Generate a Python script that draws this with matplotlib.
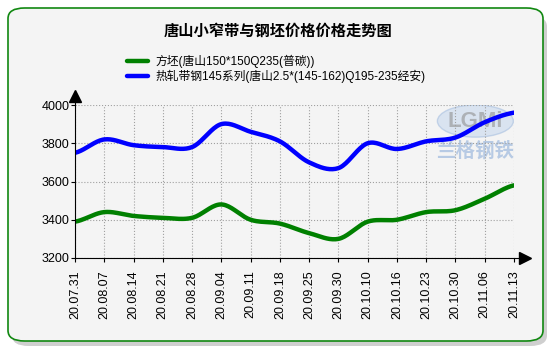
import numpy as np
import matplotlib.pyplot as plt
from matplotlib.patches import FancyBboxPatch, Ellipse

plt.rcParams['font.family'] = ['Liberation Sans', 'Noto Sans CJK SC', 'DejaVu Sans']

dates = ['20.07.31', '20.08.07', '20.08.14', '20.08.21', '20.08.28', '20.09.04',
         '20.09.11', '20.09.18', '20.09.25', '20.09.30', '20.10.10', '20.10.16',
         '20.10.23', '20.10.30', '20.11.06', '20.11.13']
billet = [3390, 3440, 3420, 3410, 3410, 3480, 3400, 3380, 3330, 3300,
          3390, 3400, 3440, 3450, 3510, 3580]
strip = [3750, 3820, 3790, 3780, 3780, 3900, 3860, 3810, 3700, 3670,
         3800, 3770, 3810, 3830, 3910, 3960]
label_billet = '方坯(唐山150*150Q235(普碳))'
label_strip = '热轧带钢145系列(唐山2.5*(145-162)Q195-235经安)'
title = '唐山小窄带与钢坯价格价格走势图'


def smooth(y, n=20):
    # catmull-rom curve through the points
    y = np.asarray(y, float)
    p = np.concatenate([[y[0]], y, [y[-1]]])
    xs, ys = [], []
    t = np.linspace(0, 1, n, endpoint=False)
    for i in range(len(y) - 1):
        p0, p1, p2, p3 = p[i], p[i + 1], p[i + 2], p[i + 3]
        seg = 0.5 * (2 * p1 + (-p0 + p2) * t + (2 * p0 - 5 * p1 + 4 * p2 - p3) * t ** 2
                     + (-p0 + 3 * p1 - 3 * p2 + p3) * t ** 3)
        xs.extend(i + t)
        ys.extend(seg)
    xs.append(len(y) - 1)
    ys.append(y[-1])
    return np.array(xs), np.array(ys)


fig = plt.figure(figsize=(5.52, 3.5), dpi=100)
fig.patch.set_facecolor('white')

# shadow + panel
shadow = FancyBboxPatch((12 / 552, 4 / 350), 535 / 552, 330 / 350,
                        boxstyle='round,pad=0,rounding_size=0.03',
                        transform=fig.transFigure, facecolor='#b0b0b0',
                        edgecolor='none', alpha=0.6, zorder=-2)
panel = FancyBboxPatch((8 / 552, 9 / 350), 535 / 552, 333 / 350,
                       boxstyle='round,pad=0,rounding_size=0.03',
                       transform=fig.transFigure, facecolor='#f4f4f4',
                       edgecolor='#118811', linewidth=1.2, zorder=-1)
fig.patches.extend([shadow, panel])

fig.text(278 / 552, 1 - 31 / 350, title, ha='center', va='center',
         fontsize=11, fontweight='bold')

ax = fig.add_axes([75 / 552, 1 - 258 / 350, 439 / 552, 153 / 350])
ax.set_facecolor('none')

x = np.arange(len(dates))
xs, ys = smooth(billet)
ax.plot(xs, ys, color='#008000', lw=3.2, label=label_billet, solid_capstyle='round')
xs, ys = smooth(strip)
ax.plot(xs, ys, color='#0000ff', lw=3.2, label=label_strip, solid_capstyle='round')

ax.set_xlim(0, len(dates) - 1)
ax.set_ylim(3200, 4000)
ax.set_yticks([3200, 3400, 3600, 3800, 4000])
ax.set_xticks(x)
ax.set_xticklabels(dates, rotation=90, fontsize=9)
ax.tick_params(axis='y', labelsize=9, length=3, pad=1)
ax.tick_params(axis='x', length=3, pad=6)
ax.grid(True, color='#a0a0a0', linestyle=':', linewidth=0.8)
for s in ['top', 'right']:
    ax.spines[s].set_visible(False)

# axis arrows
ax.plot([0, 0], [1, 1.07], color='black', lw=0.8, transform=ax.transAxes, clip_on=False)
ax.plot(0, 1.06, marker='^', color='black', ms=8, transform=ax.transAxes, clip_on=False)
ax.plot([1, 1.03], [0, 0], color='black', lw=0.8, transform=ax.transAxes, clip_on=False)
ax.plot(1.025, 0, marker='>', color='black', ms=8, transform=ax.transAxes, clip_on=False)

# watermark
ax.add_patch(Ellipse((0.912, 0.895), 0.173, 0.21, transform=ax.transAxes,
                     facecolor='#c8d8ee', edgecolor='#a8c0e0', alpha=0.6, zorder=0))
ax.text(0.912, 0.895, 'LGMi', transform=ax.transAxes, ha='center', va='center',
        fontsize=16, fontweight='bold', color='#909090', alpha=0.6, zorder=0)
ax.text(0.912, 0.70, '兰格钢铁', transform=ax.transAxes, ha='center', va='center',
        fontsize=14, fontweight='bold', color='#a8c0e0', alpha=0.8, zorder=0)

fig.legend(loc='upper left', bbox_to_anchor=(127 / 552, 1 - 55 / 350), frameon=False,
           fontsize=8.5, handlelength=1.8, handletextpad=0.6, labelspacing=0.15,
           borderaxespad=0, borderpad=0)

fig.savefig('out.png', dpi=100)
